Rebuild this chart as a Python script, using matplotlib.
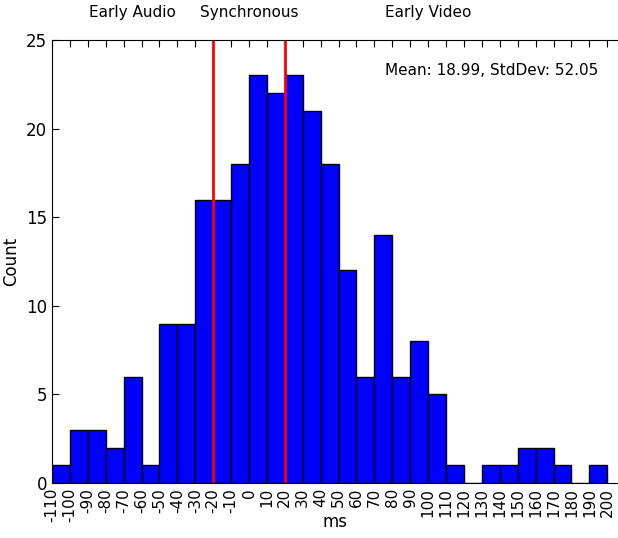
import numpy as np
import matplotlib
matplotlib.use("Agg")
import matplotlib.pyplot as plt

# histogram bins (left edges, ms) and counts
bin_left = list(range(-110, 200, 10))
counts = [1, 3, 3, 2, 6, 1, 9, 9, 16, 16, 18, 23, 22, 23, 21, 18,
          12, 6, 14, 6, 8, 5, 1, 0, 1, 1, 2, 2, 1, 0, 1]
tick_vals = list(range(-110, 201, 10))
sync_bounds = [-20, 20]
region_labels = ["Early Audio", "Synchronous", "Early Video"]
region_pos = [-65, 0, 100]

fig = plt.figure(figsize=(6.18, 5.38), dpi=100)
ax = fig.add_axes([0.0841, 0.102, 0.9159, 0.8237])

ax.bar(bin_left, counts, width=10, align="edge", color="#0000ff",
       edgecolor="black", linewidth=1.0)
for b in sync_bounds:
    ax.axvline(b, color="red", linewidth=2)

ax.set_xlim(-110, 206)
ax.set_ylim(0, 25)
ax.set_xticks(tick_vals)
ax.set_xticklabels([str(t) for t in tick_vals], rotation=90, fontsize=11)
ax.set_yticks([0, 5, 10, 15, 20, 25])
ax.tick_params(axis="y", labelsize=12)
ax.tick_params(direction="in", top=True, right=False, length=5)
ax.spines["right"].set_visible(False)
ax.set_xlabel("ms", fontsize=12, labelpad=-7)
ax.set_ylabel("Count", fontsize=12)

for lab, pos in zip(region_labels, region_pos):
    ax.text(pos, 26.1, lab, ha="center", va="bottom", fontsize=11)

ax.text(76, 23.3, "Mean: 18.99, StdDev: 52.05", ha="left", va="center",
        fontsize=11)

fig.savefig("out.png", dpi=100)
